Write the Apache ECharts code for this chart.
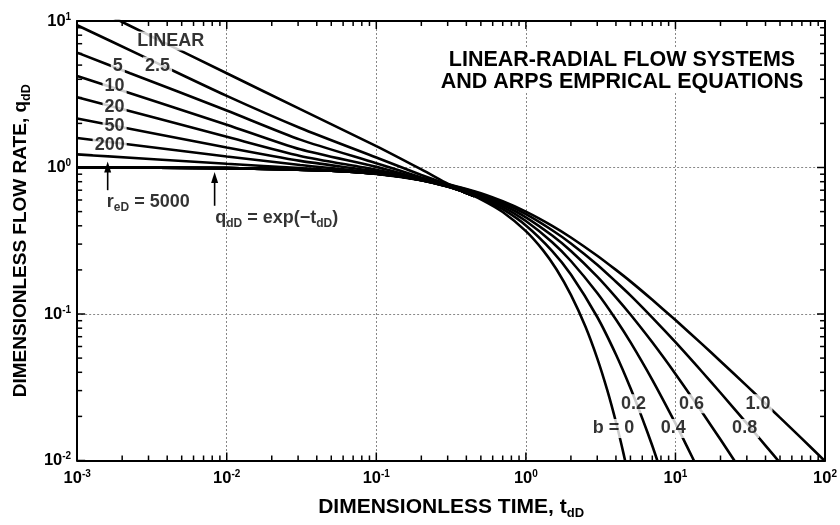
<!DOCTYPE html>
<html><head><meta charset="utf-8">
<script src="https://cdn.jsdelivr.net/npm/echarts@6/dist/echarts.min.js"></script>
<style>html,body{margin:0;padding:0;background:#fff}#c{width:840px;height:525px}</style>
</head><body><div id="c"></div>
<script>
// ---------- DATA ----------
const xTickExps = [-3, -2, -1, 0, 1, 2];
const yTickExps = [-2, -1, 0, 1];
const xMajorTicks = [0.001, 0.01, 0.1, 1, 10, 100];
const yMajorTicks = [0.01, 0.1, 1, 10];
const xMinorTicks = [0.002,0.003,0.004,0.005,0.006,0.007,0.008,0.009,
  0.02,0.03,0.04,0.05,0.06,0.07,0.08,0.09,
  0.2,0.3,0.4,0.5,0.6,0.7,0.8,0.9,
  2,3,4,5,6,7,8,9,
  20,30,40,50,60,70,80,90];
const yMinorTicks = [0.02,0.03,0.04,0.05,0.06,0.07,0.08,0.09,
  0.2,0.3,0.4,0.5,0.6,0.7,0.8,0.9,
  2,3,4,5,6,7,8,9];

// transient (linear-radial) stems: [tdD, qdD]
const stemLinear = [[0.0015,11.4],[0.003,8.03],[0.01,4.40],[0.031,2.50],[0.1,1.40],[0.2,0.97],[0.3,0.775],[0.36,0.705],[0.45,0.638]];
const stem2_5 = [[0.001,9.36],[0.00271,5.78],[0.01,3.08],[0.031,1.86],[0.1,1.17],[0.2,0.89],[0.3,0.765],[0.36,0.71],[0.45,0.638]];
const stem5 = [[0.001,6.08],[0.00226,4.40],[0.01,2.45],[0.031,1.55],[0.1,1.07],[0.2,0.855],[0.3,0.755],[0.36,0.705],[0.45,0.638]];
const stem10 = [[0.001,4.22],[0.01,1.96],[0.031,1.33],[0.1,1.01],[0.2,0.835],[0.3,0.75],[0.36,0.705],[0.45,0.638]];
const stem20 = [[0.001,3.02],[0.01,1.62],[0.031,1.20],[0.1,0.965],[0.2,0.825],[0.3,0.745],[0.36,0.70],[0.45,0.638]];
const stem50 = [[0.001,2.16],[0.01,1.37],[0.031,1.11],[0.1,0.94],[0.2,0.82],[0.3,0.743],[0.36,0.70],[0.45,0.638]];
const stem200 = [[0.001,1.59],[0.01,1.19],[0.031,1.04],[0.1,0.92],[0.2,0.82],[0.3,0.742],[0.36,0.70],[0.45,0.638]];
const stem5000 = [[0.001,1.23],[0.01,1.06],[0.031,0.99],[0.1,0.91],[0.2,0.82],[0.3,0.742],[0.36,0.70],[0.45,0.638]];

// Arps depletion stems: [tdD, qdD]
const arpsB00 = [[0.001,0.999],[0.01,0.990],[0.05,0.951],[0.1,0.905],[0.2,0.819],[0.3,0.741],[0.4,0.670],[0.5,0.607],[0.7,0.497],[1,0.368],[1.3,0.273],[1.6,0.202],[2,0.135],[2.5,0.0821],[3,0.0498],[3.5,0.0302],[4,0.0183],[4.5,0.0111],[5,0.00674]];
const arpsB02 = [[0.001,0.999],[0.01,0.990],[0.05,0.951],[0.1,0.906],[0.2,0.822],[0.3,0.747],[0.4,0.681],[0.5,0.621],[0.7,0.519],[1,0.402],[1.5,0.269],[2,0.186],[3,0.0954],[4,0.0529],[5,0.03125],[6,0.0194],[7,0.0126],[8,0.00842]];
const arpsB04 = [[0.001,0.999],[0.01,0.990],[0.05,0.952],[0.1,0.907],[0.2,0.825],[0.3,0.753],[0.4,0.690],[0.5,0.634],[0.7,0.539],[1,0.431],[1.5,0.309],[2,0.230],[3,0.139],[4,0.0917],[5,0.0642],[7,0.0355],[10,0.0179],[12,0.01234],[14,0.00894]];
const arpsB06 = [[0.001,0.999],[0.01,0.990],[0.05,0.952],[0.1,0.907],[0.2,0.828],[0.3,0.759],[0.4,0.699],[0.5,0.646],[0.7,0.557],[1,0.457],[1.5,0.343],[2,0.269],[3,0.180],[4,0.130],[5,0.0992],[7,0.0641],[10,0.0390],[15,0.0215],[20,0.0139],[25,0.00984],[30,0.00739]];
const arpsB08 = [[0.001,0.999],[0.01,0.990],[0.05,0.952],[0.1,0.908],[0.2,0.831],[0.3,0.764],[0.4,0.707],[0.5,0.657],[0.7,0.574],[1,0.480],[1.5,0.373],[2,0.303],[3,0.217],[4,0.166],[5,0.134],[7,0.0945],[10,0.0642],[15,0.0405],[20,0.0290],[30,0.0179],[40,0.01264],[50,0.00964],[60,0.00771]];
const arpsB10 = [[0.001,0.999],[0.01,0.990],[0.05,0.952],[0.1,0.909],[0.2,0.833],[0.3,0.769],[0.4,0.714],[0.5,0.667],[0.7,0.588],[1,0.5],[1.5,0.4],[2,0.333],[3,0.25],[4,0.2],[5,0.167],[7,0.125],[10,0.0909],[15,0.0625],[20,0.0476],[30,0.0323],[40,0.0244],[50,0.0196],[70,0.0141],[100,0.0099]];

// curve label texts and anchor points (data coords)
const curveLabelText = ['LINEAR','2.5','5','10','20','50','200','b = 0','0.2','0.4','0.6','0.8','1.0'];
const curveLabelAt = [[0.00422,7.31],[0.00345,4.92],[0.00187,4.92],[0.00178,3.61],[0.00178,2.59],[0.00178,1.92],[0.00165,1.43],
  [3.855,0.01653],[5.24,0.0244],[9.67,0.01653],[12.8,0.0244],[29.0,0.01653],[35.6,0.0244]];
// arrows: [t, qFrom, qTo]
const arrowLines = [[0.0016, 0.70, 1.10], [0.0083, 0.548, 0.93]];

// ---------- CHART ----------
const FONT = '"Liberation Sans", Arial, Helvetica, sans-serif';
const X_MIN = 0.001, X_MAX = 100, Y_MIN = 0.01, Y_MAX = 10;
const chart = echarts.init(document.getElementById('c'), null, {renderer: 'canvas'});

const tickRich = {
  b: {fontFamily: FONT, fontWeight: 'bold', fontSize: 16.5, color: '#000', lineHeight: 16},
  p: {fontFamily: FONT, fontWeight: 'bold', fontSize: 10, color: '#000', lineHeight: 10, padding: [0, 0, 8, 0]}
};
const nameRichX = {
  m: {fontFamily: FONT, fontWeight: 'bold', fontSize: 21, color: '#000', lineHeight: 21},
  s: {fontFamily: FONT, fontWeight: 'bold', fontSize: 13, color: '#000', lineHeight: 13, padding: [13, 0, 0, 0]}
};
const nameRichY = {
  m: {fontFamily: FONT, fontWeight: 'bold', fontSize: 19, color: '#000', lineHeight: 19},
  s: {fontFamily: FONT, fontWeight: 'bold', fontSize: 12.5, color: '#000', lineHeight: 12.5, padding: [12, 0, 0, 0]}
};
const lblRich = {
  m: {fontFamily: FONT, fontWeight: 'bold', fontSize: 18, color: '#000', lineHeight: 18},
  s: {fontFamily: FONT, fontWeight: 'bold', fontSize: 12, color: '#000', lineHeight: 12, padding: [11, 0, 0, 0]}
};
function expLabel(v) {
  const e = Math.round(Math.log10(v));
  return '{b|10}{p|' + e + '}';
}

const baseAxis = {
  type: 'log', logBase: 10,
  axisLine: {show: true, lineStyle: {color: '#000', width: 2}},
  axisTick: {show: false},
  minorTick: {show: false},
  splitLine: {show: false}
};

function curveSeries(name, data) {
  return {
    name, type: 'line', data, symbol: 'none', smooth: 0.25, clip: true,
    lineStyle: {color: '#000', width: 2.6}, z: 3, silent: true
  };
}

const stems = [['LINEAR', stemLinear], ['2.5', stem2_5], ['5', stem5], ['10', stem10], ['20', stem20],
  ['50', stem50], ['200', stem200], ['5000', stem5000]];
const arps = [['b=0', arpsB00], ['b=0.2', arpsB02], ['b=0.4', arpsB04], ['b=0.6', arpsB06], ['b=0.8', arpsB08], ['b=1.0', arpsB10]];

const series = [];
stems.forEach(s => series.push(curveSeries(s[0], s[1])));
arps.forEach(s => series.push(curveSeries(s[0], s[1])));

series.push({
  type: 'scatter', silent: true, z: 10, symbolSize: 0,
  data: curveLabelText.map((t, i) => ({name: t, value: curveLabelAt[i]})),
  label: {
    show: true, position: 'inside', color: '#000',
    fontFamily: FONT, fontWeight: 'bold', fontSize: 18,
    backgroundColor: '#fff', padding: [1, 2, 0, 2],
    formatter: p => p.name
  }
});
series.push({
  type: 'scatter', silent: true, z: 10, symbolSize: 0,
  data: [
    {name: 'reD', value: [0.00299, 0.583]},
    {name: 'qdD', value: [0.0216, 0.449]}
  ],
  label: {
    show: true, position: 'inside', color: '#000', rich: lblRich,
    formatter: p => p.name === 'reD' ? '{m|r}{s|eD}{m| = 5000}' : '{m|q}{s|dD}{m| = exp(\u2212t}{s|dD}{m|)}'
  }
});

const option = {
  animation: false,
  backgroundColor: '#fff',
  grid: {left: 76, right: 13, top: 21, bottom: 56, containLabel: false},
  xAxis: [
    Object.assign({}, baseAxis, {
      min: X_MIN, max: X_MAX, position: 'bottom',
      splitLine: {show: true, lineStyle: {color: '#888', width: 1, type: [2, 2]}},
      axisLabel: {show: true, margin: 10, formatter: expLabel, rich: tickRich},
      name: '{m|DIMENSIONLESS TIME, t}{s|dD}', nameLocation: 'middle', nameGap: 36,
      nameTextStyle: {rich: nameRichX}
    }),
    Object.assign({}, baseAxis, {min: X_MIN, max: X_MAX, position: 'top', axisLabel: {show: false}})
  ],
  yAxis: [
    Object.assign({}, baseAxis, {
      min: Y_MIN, max: Y_MAX, position: 'left',
      splitLine: {show: true, lineStyle: {color: '#888', width: 1, type: [2, 2]}},
      axisLabel: {show: true, margin: 6, formatter: expLabel, rich: tickRich},
      name: '{m|DIMENSIONLESS FLOW RATE, q}{s|dD}', nameLocation: 'middle', nameGap: 46, nameRotate: 90,
      nameTextStyle: {rich: nameRichY}
    }),
    Object.assign({}, baseAxis, {min: Y_MIN, max: Y_MAX, position: 'right', axisLabel: {show: false}})
  ],
  series
};
chart.setOption(option);

// ticks and arrows drawn as graphic shapes positioned through the chart's own scales
const g = [];
g.push({
  type: 'text', x: 622, y: 49, z: 100,
  style: {
    text: 'LINEAR-RADIAL FLOW SYSTEMS\nAND ARPS EMPRICAL EQUATIONS',
    font: 'bold 21.5px ' + FONT, fill: '#000', textAlign: 'center', textVerticalAlign: 'top',
    lineHeight: 22, backgroundColor: '#fff'
  }
});
const top0 = chart.convertToPixel({gridIndex: 0}, [X_MIN, Y_MAX]);
const bot0 = chart.convertToPixel({gridIndex: 0}, [X_MAX, Y_MIN]);
const gx0 = top0[0], gy0 = top0[1], gx1 = bot0[0], gy1 = bot0[1];
function xTick(v, len) {
  const x = chart.convertToPixel({gridIndex: 0}, [v, 1])[0];
  g.push({type: 'rect', z: 100, shape: {x: x - 0.75, y: gy1 - len, width: 1.5, height: len}, style: {fill: '#000'}});
  g.push({type: 'rect', z: 100, shape: {x: x - 0.75, y: gy0, width: 1.5, height: len}, style: {fill: '#000'}});
}
function yTick(v, len) {
  const y = chart.convertToPixel({gridIndex: 0}, [1, v])[1];
  g.push({type: 'rect', z: 100, shape: {x: gx0, y: y - 0.75, width: len, height: 1.5}, style: {fill: '#000'}});
  g.push({type: 'rect', z: 100, shape: {x: gx1 - len, y: y - 0.75, width: len, height: 1.5}, style: {fill: '#000'}});
}
xMajorTicks.forEach(v => xTick(v, 8));
xMinorTicks.forEach(v => xTick(v, 5));
yMajorTicks.forEach(v => yTick(v, 8));
yMinorTicks.forEach(v => yTick(v, 5));
arrowLines.forEach(a => {
  const p0 = chart.convertToPixel({gridIndex: 0}, [a[0], a[1]]);
  const p1 = chart.convertToPixel({gridIndex: 0}, [a[0], a[2]]);
  g.push({type: 'rect', z: 100, shape: {x: p0[0] - 0.8, y: p1[1] + 8, width: 1.6, height: p0[1] - p1[1] - 8}, style: {fill: '#000'}});
  g.push({type: 'polygon', z: 100, shape: {points: [[p1[0], p1[1]], [p1[0] - 3.5, p1[1] + 11], [p1[0] + 3.5, p1[1] + 11]]}, style: {fill: '#000'}});
});
chart.setOption({graphic: g});
</script>
</body></html>
